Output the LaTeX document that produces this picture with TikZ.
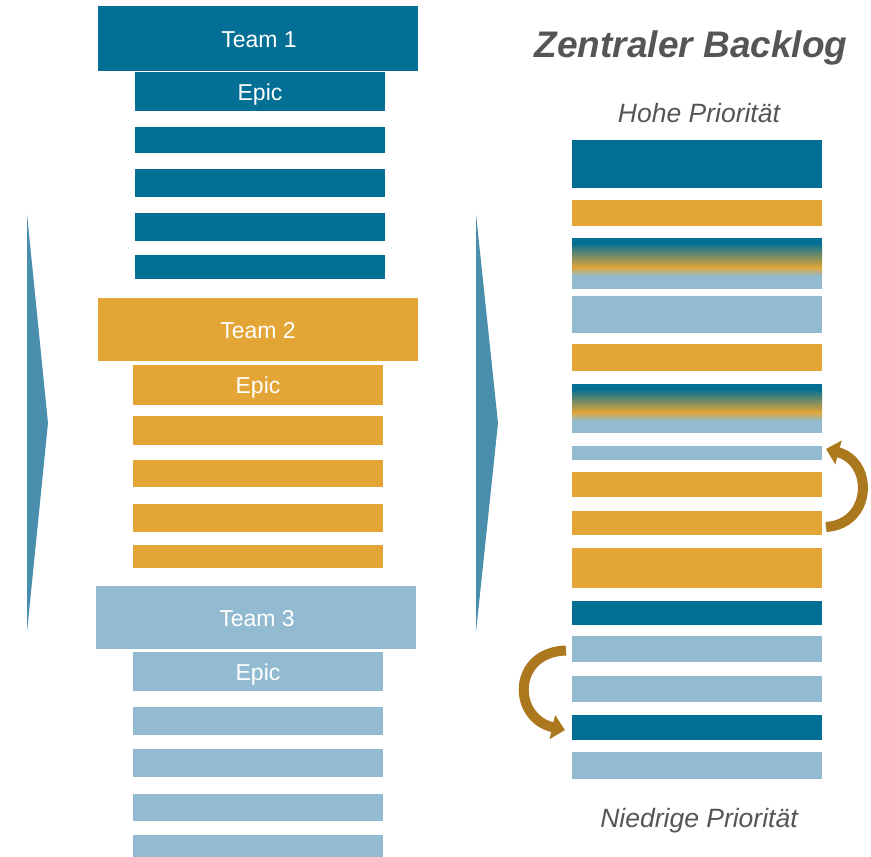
\documentclass[tikz,border=0pt]{standalone}
\usepackage{fontspec}
\setmainfont{Liberation Sans}
\usetikzlibrary{arrows.meta}
\definecolor{db}{HTML}{036F95}
\definecolor{og}{HTML}{E3A535}
\definecolor{lb}{HTML}{92BBD1}
\definecolor{tri}{HTML}{4A8EAE}
\definecolor{arr}{HTML}{AB781E}
\definecolor{tx}{HTML}{555555}
\tikzset{
  box/.style={rectangle, inner sep=0pt, outer sep=0pt, minimum width=250pt},
  team/.style={rectangle, inner sep=0pt, outer sep=0pt, minimum width=320pt},
  lbl/.style={text=white, font=\fontsize{23}{27}\selectfont, anchor=base, inner sep=0pt},
  ttl/.style={text=tx, anchor=base, inner sep=0pt},
  curv/.style={draw=arr, line width=10pt, -{Triangle[width=24pt,length=13pt]}},
  chev/.style={fill=tri}
}
\begin{document}
\begin{tikzpicture}[x=1pt,y=-1pt]
\useasboundingbox (0,0) rectangle (871,857);
% chevrons
\fill[chev] (27,214) -- (48,423) -- (27,632) -- cycle;
\fill[chev] (476,214) -- (498,423) -- (476,632) -- cycle;
% Team 1
\node[team, fill=db, minimum height=65pt] (t1) at (258,38.5) {};
\node[box, fill=db, minimum height=39pt] (e1) at (260,91.5) {};
\node[lbl] at (259,47) {Team 1};
\node[lbl] at (260,100) {Epic};
\node[box, fill=db, minimum height=26pt] (a1) at (260,140) {};
\node[box, fill=db, minimum height=28pt] (a2) at (260,183) {};
\node[box, fill=db, minimum height=28pt] (a3) at (260,227) {};
\node[box, fill=db, minimum height=24pt] (a4) at (260,267) {};
% Team 2
\node[team, fill=og, minimum height=63pt] (t2) at (258,329.5) {};
\node[box, fill=og, minimum height=40pt] (e2) at (258,385) {};
\node[lbl] at (258,338.5) {Team 2};
\node[lbl] at (258,393.5) {Epic};
\node[box, fill=og, minimum height=29pt] (b1) at (258,430.5) {};
\node[box, fill=og, minimum height=27pt] (b2) at (258,473.5) {};
\node[box, fill=og, minimum height=28pt] (b3) at (258,518) {};
\node[box, fill=og, minimum height=23pt] (b4) at (258,556.5) {};
% Team 3
\node[team, fill=lb, minimum height=63pt] (t3) at (256,617.5) {};
\node[box, fill=lb, minimum height=39pt] (e3) at (258,671.5) {};
\node[lbl] at (257,626.5) {Team 3};
\node[lbl] at (258,680.5) {Epic};
\node[box, fill=lb, minimum height=28pt] (c1) at (258,721) {};
\node[box, fill=lb, minimum height=28pt] (c2) at (258,763) {};
\node[box, fill=lb, minimum height=27pt] (c3) at (258,807.5) {};
\node[box, fill=lb, minimum height=22pt] (c4) at (258,846) {};
% titles
\node[ttl, font=\fontsize{37}{42}\selectfont\bfseries\itshape] (title) at (691,57) {Zentraler Backlog};
\node[ttl, font=\fontsize{26.5}{31}\selectfont\itshape] (hi) at (699,122) {Hohe Priorität};
\node[ttl, font=\fontsize{26.5}{31}\selectfont\itshape] (lo) at (699,827) {Niedrige Priorität};
% central backlog
\node[box, fill=db, minimum height=48pt] (r1) at (697,164) {};
\node[box, fill=og, minimum height=26pt] (r2) at (697,213) {};
\fill[lb] (572,238) rectangle (822,289);
\fill[db] (572,238) rectangle (822,243);
\shade[top color=db, bottom color=og] (572,243) rectangle (822,267.5);
\shade[top color=og, bottom color=lb] (572,267) rectangle (822,276);
\node[box, minimum height=51pt] (r3) at (697,263.5) {};
\node[box, fill=lb, minimum height=37pt] (r4) at (697,314.5) {};
\node[box, fill=og, minimum height=27pt] (r5) at (697,357.5) {};
\fill[lb] (572,384) rectangle (822,433);
\fill[db] (572,384) rectangle (822,389);
\shade[top color=db, bottom color=og] (572,389) rectangle (822,412.5);
\shade[top color=og, bottom color=lb] (572,412) rectangle (822,421);
\node[box, minimum height=49pt] (r6) at (697,408.5) {};
\node[box, fill=lb, minimum height=14pt] (r7) at (697,453) {};
\node[box, fill=og, minimum height=25pt] (r8) at (697,484.5) {};
\node[box, fill=og, minimum height=24pt] (r9) at (697,523) {};
\node[box, fill=og, minimum height=40pt] (r10) at (697,568) {};
\node[box, fill=db, minimum height=24pt] (r11) at (697,613) {};
\node[box, fill=lb, minimum height=26pt] (r12) at (697,649) {};
\node[box, fill=lb, minimum height=26pt] (r13) at (697,689) {};
\node[box, fill=db, minimum height=25pt] (r14) at (697,727.5) {};
\node[box, fill=lb, minimum height=27pt] (r15) at (697,765.5) {};
% curved arrows
\coordinate (p1) at (826,527);
\coordinate (p2) at (826,449);
\draw[curv] (p1) .. controls (872,524) and (874,462) .. (p2);
\coordinate (q1) at (566,650.5);
\coordinate (q2) at (565,730);
\draw[curv] (q1) .. controls (512,652) and (512,718) .. (q2);
\end{tikzpicture}
\end{document}
